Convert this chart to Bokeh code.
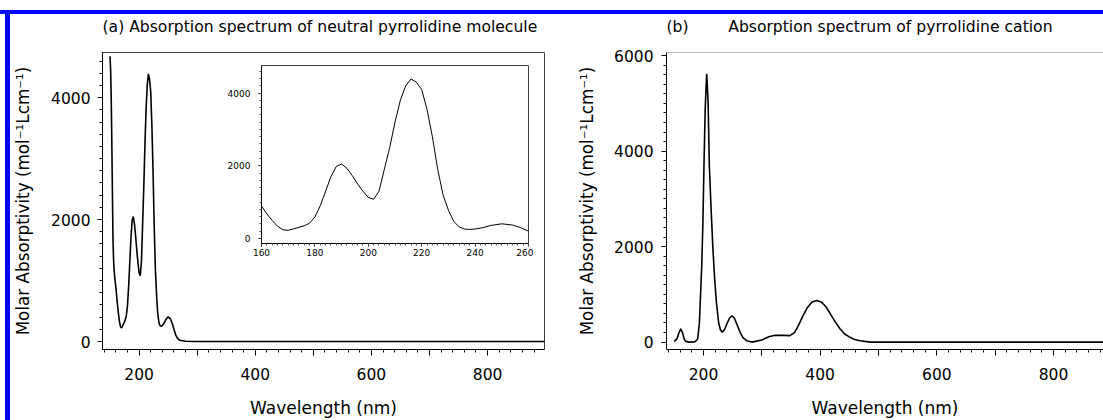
from bokeh.plotting import figure
from bokeh.models import Range1d, FixedTicker, Span, Div, Title
from bokeh.layouts import row, column
from bokeh.embed import file_html
from bokeh.resources import INLINE

# ---------------- data ----------------
neutral_wl = [150, 151, 152, 153, 154, 155, 156, 157, 158, 160, 162, 164, 166, 168,
              170, 172, 174, 176, 178, 180, 182, 184, 186, 188, 190, 192, 194, 196,
              198, 200, 202, 204, 206, 208, 210, 212, 214, 216, 218, 220, 222, 224,
              226, 228, 230, 232, 234, 236, 238, 240, 243, 246, 250, 254, 257, 260,
              263, 266, 270, 280, 300, 900]
neutral_eps = [4680, 4450, 4000, 3300, 2500, 1700, 1350, 1180, 1060, 890, 680, 495, 340, 240,
               225, 265, 305, 350, 420, 590, 900, 1300, 1700, 1980, 2050, 1930, 1730, 1500,
               1300, 1130, 1080, 1300, 1900, 2500, 3200, 3800, 4200, 4390, 4300, 4100, 3550, 2800,
               1900, 1200, 780, 470, 320, 260, 250, 260, 300, 360, 404, 370, 300, 200,
               110, 55, 20, 5, 0, 0]

cation_wl = [150, 155, 158, 161, 164, 167, 170, 175, 185, 190, 193, 195, 197, 199, 201,
             203, 205.5, 208, 210, 213, 216, 219, 222, 226, 229, 232, 236, 240, 245, 249,
             253, 258, 263, 268, 274, 283, 300, 312, 323, 338, 348, 356, 362, 370, 378,
             386, 394, 402, 410, 418, 426, 434, 442, 450, 458, 468, 486, 900]
cation_eps = [10, 80, 200, 280, 200, 60, 15, 0, 5, 60, 400, 1000, 1600, 2500, 3800,
              4900, 5620, 5000, 3700, 2800, 2000, 1350, 850, 400, 260, 205, 260, 380, 510, 550,
              500, 350, 200, 90, 30, 0, 45, 110, 145, 140, 135, 200, 330, 540, 720,
              840, 870, 840, 740, 580, 420, 280, 170, 110, 60, 28, 0, 0]

x_major = [200, 300, 400, 500, 600, 700, 800]
x_minor = list(range(140, 900, 20))
x_label_overrides = {300: "", 500: "", 700: ""}

ya_major = [0, 2000, 4000]
yb_major = [0, 2000, 4000, 6000]

inset_x_major = [160, 180, 200, 220, 240, 260]
inset_x_minor = list(range(160, 261, 2))

title_a = "(a) Absorption spectrum of neutral pyrrolidine molecule"
title_b = "(b)" + "\u00a0" * 8 + "Absorption spectrum of pyrrolidine cation"
x_label = "Wavelength (nm)"
y_label = "Molar Absorptivity (mol\u207b\u00b9Lcm\u207b\u00b9)"

FONT = "DejaVu Sans"


def style(p, title_text, ylab_standoff, ylab_tick_standoff):
    p.xgrid.visible = False
    p.ygrid.visible = False
    for ax in (p.xaxis[0], p.yaxis[0]):
        ax.axis_line_color = "black"
        ax.major_tick_line_color = "black"
        ax.minor_tick_line_color = "black"
        ax.major_tick_in = 0
        ax.minor_tick_in = 0
        ax.major_label_text_font = FONT
        ax.major_label_text_font_size = "15.5px"
        ax.major_label_text_color = "black"
        ax.axis_label_text_font = FONT
        ax.axis_label_text_font_style = "normal"
        ax.axis_label_text_color = "black"
    p.xaxis.axis_label = x_label
    p.yaxis.axis_label = y_label
    p.xaxis.axis_label_text_font_size = "17px"
    p.yaxis.axis_label_text_font_size = "16.8px"
    p.xaxis.ticker = FixedTicker(ticks=x_major, minor_ticks=x_minor)
    p.xaxis.major_label_overrides = x_label_overrides
    p.xaxis.major_tick_out = 6
    p.xaxis.minor_tick_out = 3
    p.xaxis.major_label_standoff = 12
    p.xaxis.axis_label_standoff = 15
    p.yaxis.major_tick_out = 5
    p.yaxis.minor_tick_out = 3
    p.yaxis.major_label_standoff = ylab_tick_standoff
    p.yaxis.axis_label_standoff = ylab_standoff
    # spacer title (nearest the frame) then the real title above it
    p.add_layout(Title(text="\u00a0", text_font=FONT, text_font_size="12px", standoff=1), "above")
    p.add_layout(Title(text=title_text, text_font=FONT, text_font_size="15.6px",
                       text_font_style="normal", text_color="black",
                       align="left", offset=0, standoff=0), "above")


# ---------------- panel (a) ----------------
pa = figure(width=564, height=406, output_backend="svg", toolbar_location=None,
            x_range=Range1d(137, 898), y_range=Range1d(-131, 4740),
            min_border_left=90, min_border_right=30, min_border_top=38, min_border_bottom=71)
style(pa, title_a, 15, 7)
pa.outline_line_color = "#404040"
pa.yaxis.ticker = FixedTicker(ticks=ya_major, minor_ticks=list(range(0, 4800, 200)))
pa.line(neutral_wl, neutral_eps, line_color="black", line_width=1.6)

# ---------------- panel (b) ----------------
pb = figure(width=529, height=406, output_backend="svg", toolbar_location=None,
            x_range=Range1d(136.6, 885.7), y_range=Range1d(-155, 6065),
            min_border_left=92, min_border_right=0, min_border_top=38, min_border_bottom=71)
style(pb, title_b, 14, 8)
pb.outline_line_color = None
pb.add_layout(Span(location=6065, dimension="width", line_color="#808080", line_width=1))
pb.yaxis.ticker = FixedTicker(ticks=yb_major, minor_ticks=list(range(0, 6100, 200)))
pb.line(cation_wl, cation_eps, line_color="black", line_width=1.6)

# ---------------- inset of panel (a) ----------------
pi = figure(width=318, height=208, output_backend="svg", toolbar_location=None,
            x_range=Range1d(160, 260), y_range=Range1d(-138, 4760),
            min_border_left=46, min_border_right=5, min_border_top=5, min_border_bottom=25,
            styles={"position": "absolute", "left": "215px", "top": "60px"})
pi.xgrid.visible = False
pi.ygrid.visible = False
pi.background_fill_color = None
pi.border_fill_color = None
pi.outline_line_color = "#404040"
for ax in (pi.xaxis[0], pi.yaxis[0]):
    ax.axis_line_color = "black"
    ax.major_tick_line_color = "black"
    ax.minor_tick_line_color = "#555555"
    ax.major_tick_in = 0
    ax.minor_tick_in = 0
    ax.major_tick_out = 3
    ax.minor_tick_out = 2
    ax.major_label_text_font = FONT
    ax.major_label_text_font_size = "9px"
    ax.major_label_text_color = "black"
pi.xaxis.ticker = FixedTicker(ticks=inset_x_major, minor_ticks=inset_x_minor)
pi.xaxis.major_label_standoff = 2
pi.yaxis.ticker = FixedTicker(ticks=ya_major, minor_ticks=list(range(0, 4800, 200)))
pi.yaxis.major_label_standoff = 8
pi.line(neutral_wl, neutral_eps, line_color="black", line_width=1)

# ---------------- blue frame + layout ----------------
top_space = Div(text="", width=1103, height=10, margin=0)
top_blue = Div(text="", width=1103, height=4, margin=0, styles={"background-color": "#0000ff"})
left_space = Div(text="", width=5, height=406, margin=0)
left_blue = Div(text="", width=5, height=406, margin=0, styles={"background-color": "#0000ff"})

body = row(left_space, left_blue, pa, pb)
root = column(top_space, top_blue, body, pi, styles={"position": "relative"})

open("out.html", "w").write(file_html(root, INLINE))
